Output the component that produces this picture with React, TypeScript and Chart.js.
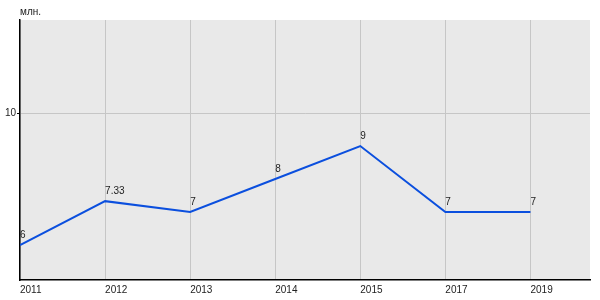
import React, { useEffect, useRef } from "react";
import { Chart, registerables } from "chart.js";

Chart.register(...registerables);

const years = ["2011", "2012", "2013", "2014", "2015", "2017", "2019"];
const values = [6, 7.33, 7, 8, 9, 7, 7];
const valueLabels = ["6", "7.33", "7", "8", "9", "7", "7"];
const yTicks = [10];
const unitLabel = "млн.";

const FONT = "'Liberation Sans', Arial, sans-serif";

export default function App() {
  const ref = useRef<HTMLCanvasElement | null>(null);

  useEffect(() => {
    document.body.style.margin = "0";
    const canvas = ref.current!;
    const bgPlugin = {
      id: "bg",
      beforeDraw(chart: any) {
        const { ctx, chartArea } = chart;
        ctx.save();
        ctx.fillStyle = "#e9e9e9";
        ctx.fillRect(chartArea.left, chartArea.top, chartArea.right - chartArea.left, chartArea.bottom - chartArea.top);
        ctx.restore();
      },
      afterDraw(chart: any) {
        const { ctx, chartArea } = chart;
        ctx.save();
        ctx.font = `10px ${FONT}`;
        ctx.fillStyle = "#222";
        ctx.textAlign = "left";
        ctx.textBaseline = "alphabetic";
        ctx.fillText(unitLabel, chartArea.left, chartArea.top - 5);
        const meta = chart.getDatasetMeta(0);
        meta.data.forEach((pt: any, i: number) => {
          ctx.fillText(valueLabels[i], pt.x, pt.y - 7);
        });
        ctx.restore();
      },
    };

    const chart = new Chart(canvas, {
      type: "line",
      data: {
        datasets: [
          {
            data: values.map((v, i) => ({ x: i, y: v })),
            borderColor: "#0b4fde",
            borderWidth: 2,
            pointRadius: 0,
            tension: 0,
            fill: false,
          },
        ],
      },
      options: {
        animation: false,
        responsive: false,
        layout: { padding: { top: 20, right: 10, left: 0, bottom: 0 } },
        plugins: { legend: { display: false }, tooltip: { enabled: false } },
        scales: {
          x: {
            type: "linear",
            min: 0,
            max: 6.7,
            afterBuildTicks(scale: any) {
              scale.ticks = years.map((_, i) => ({ value: i }));
            },
            afterFit(scale: any) {
              scale.height = 20;
            },
            ticks: {
              align: "start",
              autoSkip: false,
              maxRotation: 0,
              padding: 4,
              color: "#222",
              font: { family: FONT, size: 10 },
              callback: (v: any) => years[v as number] ?? "",
            },
            grid: { color: "#c6c6c6", drawTicks: false, lineWidth: 1 },
            border: { color: "#000", width: 1.5 },
          },
          y: {
            type: "linear",
            min: 4.94,
            max: 12.82,
            afterBuildTicks(scale: any) {
              scale.ticks = yTicks.map((v) => ({ value: v }));
            },
            afterFit(scale: any) {
              scale.width = 20;
            },
            ticks: {
              padding: 1,
              color: "#222",
              font: { family: FONT, size: 10 },
            },
            grid: { color: "#c6c6c6", tickColor: "#000", tickLength: 3, lineWidth: 1 },
            border: { color: "#000", width: 1.5 },
          },
        },
      },
      plugins: [bgPlugin],
    } as any);
    return () => chart.destroy();
  }, []);

  return (
    <div style={{ width: 600, height: 300 }}>
      <canvas ref={ref} width={600} height={300} style={{ width: 600, height: 300, display: "block" }} />
    </div>
  );
}
